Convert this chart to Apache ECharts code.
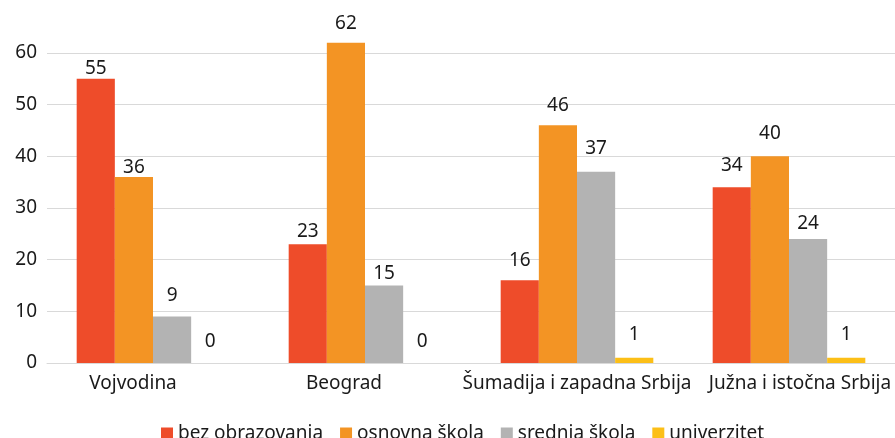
<!DOCTYPE html>
<html>
<head>
<meta charset="utf-8">
<script src="https://cdn.jsdelivr.net/npm/echarts@6/dist/echarts.min.js"></script>
<style>
  html, body { margin: 0; padding: 0; background: #fff; }
  #chart { width: 895px; height: 438px; }
</style>
</head>
<body>
<div id="chart"></div>
<script>
// 数据
const regions = ['Vojvodina', 'Beograd', 'Šumadija i zapadna Srbija', 'Južna i istočna Srbija'];
const seriesNames = ['bez obrazovanja', 'osnovna škola', 'srednja škola', 'univerzitet'];
const bezObrazovanja = [55, 23, 16, 34];
const osnovnaSkola = [36, 62, 46, 40];
const srednjaSkola = [9, 15, 37, 24];
const univerzitet = [0, 0, 1, 1];
const yTicks = [0, 10, 20, 30, 40, 50, 60];

const colors = ['#ee4c2a', '#f39424', '#b3b3b3', '#fcbf17'];
const FONT = '"Noto Sans", sans-serif';
// 标签水平偏移（原图中类目标签并非完全居中）
const labelPad = [[0, 40, 0, 0], [0, 42, 0, 0], [0, 0, 0, 0], [0, 0, 0, 22]];
// 数值标签的垂直微调（原图手动调整过位置）
const labelDy = [
    [3, 1, -6, -8],
    [4, -6, -6, -9],
    [-7, 2, -10, -2],
    [-8, -8, -10, -10]
];

const chart = echarts.init(document.getElementById('chart'));

const values = [bezObrazovanja, osnovnaSkola, srednjaSkola, univerzitet];
const series = seriesNames.map((name, i) => ({
    name: name,
    type: 'bar',
    data: values[i].map((v, j) => ({ value: v, label: { offset: [0, labelDy[i][j]] } })),
    clip: false,
    barGap: '0%',
    barCategoryGap: '28%',
    itemStyle: { color: colors[i] },
    label: {
        show: true,
        position: 'top',
        distance: 4,
        color: '#1a1a1a',
        fontSize: 19,
        fontFamily: FONT
    }
}));

chart.setOption({
    animation: false,
    textStyle: { fontFamily: FONT },
    grid: { left: 47, right: 0, top: 53, bottom: 75 },
    legend: {
        data: seriesNames,
        left: 156,
        top: 419,
        icon: 'rect',
        itemWidth: 12,
        itemHeight: 12,
        itemGap: 17,
        textStyle: { fontSize: 19, color: '#1a1a1a', fontFamily: FONT }
    },
    xAxis: {
        type: 'category',
        data: regions.map((r, i) => ({ value: r, textStyle: { padding: labelPad[i] } })),
        axisLine: { show: true, lineStyle: { color: '#d9d9d9' } },
        axisTick: { show: false },
        axisLabel: { interval: 0, fontSize: 19, color: '#1a1a1a', margin: 11, fontFamily: FONT }
    },
    yAxis: {
        type: 'value',
        min: yTicks[0],
        max: yTicks[yTicks.length - 1],
        interval: 10,
        axisLine: { show: false },
        axisTick: { show: false },
        splitLine: { lineStyle: { color: '#d9d9d9' } },
        axisLabel: { fontSize: 19, color: '#1a1a1a', margin: 10, fontFamily: FONT }
    },
    series: series
});
</script>
</body>
</html>
